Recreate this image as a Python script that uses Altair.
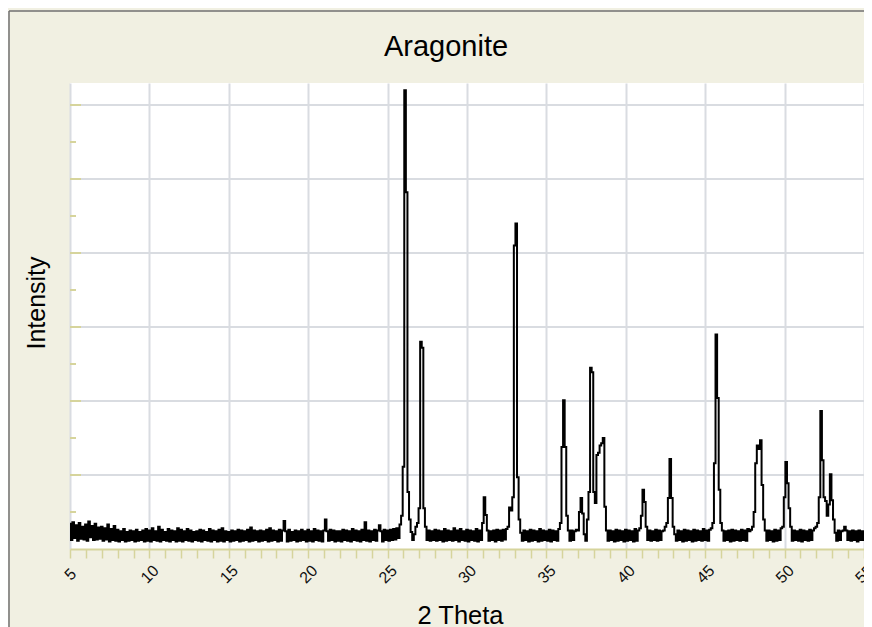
import altair as alt
import pandas as pd

# ---- data ----
title_text = "Aragonite"
x_title = "2 Theta"
y_title = "Intensity"

theta_start = 5.0
theta_step = 0.1

# intensity per 0.1 deg, one row per whole degree (5.x ... 55.x)
intensity_rows = [
    [340, 120, 360, 150, 320, 110, 350, 140, 300, 130],   # 5
    [330, 110, 370, 160, 310, 120, 340, 130, 290, 140],   # 6
    [300, 110, 280, 130, 330, 100, 270, 120, 310, 110],   # 7
    [260, 100, 240, 120, 270, 100, 230, 110, 250, 120],   # 8
    [240, 100, 260, 110, 230, 120, 250, 100, 270, 110],   # 9
    [250, 100, 280, 120, 240, 110, 300, 100, 260, 120],   # 10
    [230, 110, 270, 100, 250, 120, 240, 100, 280, 110],   # 11
    [260, 100, 240, 120, 270, 110, 250, 100, 230, 120],   # 12
    [240, 110, 260, 100, 250, 120, 230, 110, 270, 100],   # 13
    [250, 120, 240, 100, 260, 110, 280, 100, 240, 120],   # 14
    [230, 100, 250, 110, 240, 120, 260, 100, 250, 110],   # 15
    [240, 120, 260, 100, 290, 110, 250, 120, 240, 100],   # 16
    [250, 110, 240, 120, 260, 100, 280, 110, 250, 120],   # 17
    [240, 100, 260, 110, 250, 380, 240, 100, 260, 110],   # 18
    [230, 120, 250, 100, 240, 110, 260, 120, 240, 100],   # 19
    [260, 110, 240, 100, 270, 120, 250, 110, 240, 100],   # 20
    [250, 400, 240, 110, 260, 120, 250, 100, 240, 110],   # 21
    [240, 100, 260, 120, 250, 110, 240, 100, 270, 120],   # 22
    [250, 110, 240, 100, 260, 120, 360, 110, 250, 100],   # 23
    [240, 120, 260, 110, 250, 320, 240, 100, 260, 120],   # 24
    [250, 110, 260, 120, 270, 130, 280, 150, 330, 450],   # 25
    [1110, 6200, 4820, 770, 400, 230, 120, 200, 300, 350],  # 26
    [550, 2800, 2720, 550, 300, 120, 250, 110, 240, 120],  # 27
    [260, 110, 250, 120, 240, 100, 270, 110, 250, 120],   # 28
    [240, 110, 280, 120, 250, 100, 270, 120, 240, 110],   # 29
    [260, 100, 250, 120, 240, 110, 270, 100, 250, 120],   # 30
    [350, 700, 460, 250, 110, 240, 120, 250, 100, 260],   # 31
    [120, 250, 110, 260, 130, 270, 300, 560, 520, 700],   # 32
    [4100, 4400, 970, 400, 220, 110, 250, 120, 240, 100],  # 33
    [260, 110, 250, 120, 240, 100, 270, 110, 250, 120],   # 34
    [240, 110, 260, 100, 250, 120, 240, 110, 270, 350],   # 35
    [1380, 2010, 1380, 450, 250, 110, 250, 120, 240, 260],  # 36
    [250, 500, 690, 480, 200, 110, 400, 770, 2450, 2390],  # 37
    [770, 620, 1270, 1300, 1400, 1430, 1500, 570, 250, 110],  # 38
    [250, 120, 240, 100, 260, 110, 250, 120, 240, 100],   # 39
    [260, 110, 250, 120, 240, 100, 270, 110, 250, 280],   # 40
    [450, 800, 635, 300, 120, 250, 110, 240, 120, 260],   # 41
    [110, 250, 120, 240, 250, 300, 350, 690, 1215, 690],  # 42
    [300, 200, 110, 250, 120, 240, 100, 260, 110, 250],   # 43
    [120, 240, 100, 260, 110, 250, 120, 240, 110, 270],   # 44
    [120, 250, 110, 260, 280, 350, 1160, 2900, 2040, 800],  # 45
    [350, 250, 110, 240, 120, 250, 100, 260, 110, 250],   # 46
    [120, 240, 110, 260, 120, 250, 110, 270, 240, 260],   # 47
    [300, 500, 1160, 1400, 1350, 1470, 865, 400, 250, 110],  # 48
    [250, 120, 240, 100, 260, 110, 250, 120, 280, 300],   # 49
    [700, 1175, 890, 550, 300, 110, 250, 120, 240, 110],  # 50
    [260, 100, 250, 120, 240, 110, 260, 120, 250, 280],   # 51
    [300, 350, 700, 1865, 1200, 700, 650, 450, 600, 1010],  # 52
    [660, 400, 220, 110, 250, 120, 240, 250, 300, 250],   # 53
    [120, 240, 110, 250, 120, 240, 100, 250, 120, 240],   # 54
    [120],                                                # 55
]

x_tick_values = list(range(5, 56))
y_grid_values = [1000, 2000, 3000, 4000, 5000, 6000]
y_major_ticks = [1000, 2000, 3000, 4000, 5000, 6000]
y_minor_ticks = [500, 1500, 2500, 3500, 4500, 5500]

# ---- build table ----
intensity = [v for row in intensity_rows for v in row]
theta = [round(theta_start + i * theta_step, 1) for i in range(len(intensity))]
df = pd.DataFrame({"theta": theta, "intensity": intensity})

# ---- styles ----
FONT = "Liberation Sans"
CREAM = "#f1f0e2"
AXIS_YELLOW = "#d6d49c"
GRID = "#d9dce1"

W, H = 794, 466
x_scale = alt.Scale(domain=[5, 55], nice=False, zero=False)
y_scale = alt.Scale(domain=[0, 6297], nice=False, zero=False)

hgrid = alt.Chart(pd.DataFrame({"g": y_grid_values})).mark_rule(
    color=GRID, strokeWidth=2
).encode(
    y=alt.Y("g:Q", scale=y_scale, axis=None),
    x=alt.value(0),
    x2=alt.value(W),
)

major = alt.Chart(pd.DataFrame({"v": y_major_ticks})).mark_rule(
    color=AXIS_YELLOW, strokeWidth=2
).encode(
    y=alt.Y("v:Q", scale=y_scale, axis=None),
    x=alt.value(0),
    x2=alt.value(11),
)

minor = alt.Chart(pd.DataFrame({"v": y_minor_ticks})).mark_rule(
    color=AXIS_YELLOW, strokeWidth=2
).encode(
    y=alt.Y("v:Q", scale=y_scale, axis=None),
    x=alt.value(0),
    x2=alt.value(6),
)

line = alt.Chart(df).mark_line(
    color="black", strokeWidth=2, interpolate="step", clip=True
).encode(
    x=alt.X(
        "theta:Q",
        scale=x_scale,
        axis=alt.Axis(
            values=x_tick_values,
            labelExpr="datum.value % 5 === 0 ? datum.label : ''",
            labelAngle=-45,
            labelAlign="center",
            labelBaseline="middle",
            labelPadding=16,
            labelFontSize=16,
            labelFont=FONT,
            labelColor="#111111",
            labelFlush=False,
            labelOverlap=False,
            tickSize=9,
            tickColor=AXIS_YELLOW,
            tickWidth=1.5,
            domainColor=AXIS_YELLOW,
            domainWidth=2,
            grid=True,
            gridColor=GRID,
            gridWidth=2,
            gridOpacity={"condition": {"test": "datum.value % 5 === 0", "value": 1}, "value": 0},
            title=x_title,
            titleFont=FONT,
            titleFontSize=25.5,
            titleFontWeight="normal",
            titleColor="black",
            titleX=390,
            titleY=66,
            titleAlign="center",
            titleBaseline="middle",
        ),
    ),
    y=alt.Y(
        "intensity:Q",
        scale=y_scale,
        axis=alt.Axis(
            values=[0, 6000],
            labels=False,
            ticks=False,
            grid=False,
            domainColor=AXIS_YELLOW,
            domainWidth=2,
            title=None,
        ),
    ),
)

one = pd.DataFrame({"k": [0]})
frame_left = alt.Chart(one).mark_rule(color="#707070", strokeWidth=1.5).encode(
    x=alt.value(-61), y=alt.value(-72), y2=alt.value(544)
)
frame_top = alt.Chart(one).mark_rule(color="#707070", strokeWidth=1.5).encode(
    x=alt.value(-61), x2=alt.value(W), y=alt.value(-72)
)

title = alt.Chart(one).mark_text(
    font=FONT, fontSize=29, color="black", align="center", baseline="alphabetic"
).encode(
    x=alt.value(376), y=alt.value(-27), text=alt.value(title_text)
)

ytitle = alt.Chart(one).mark_text(
    font=FONT, fontSize=25, color="black", align="center", baseline="middle", angle=270
).encode(
    x=alt.value(-33), y=alt.value(220), text=alt.value(y_title)
)

chart = alt.layer(hgrid, major, minor, line, frame_left, frame_top, title, ytitle).properties(
    width=W,
    height=H,
    autosize=alt.AutoSizeParams(type="none"),
    padding={"left": 62, "top": 75, "right": 0, "bottom": 78},
    background=CREAM,
).configure_view(fill="white", strokeWidth=0)

chart.save("out.html", embed_options={"renderer": "svg", "actions": False})
